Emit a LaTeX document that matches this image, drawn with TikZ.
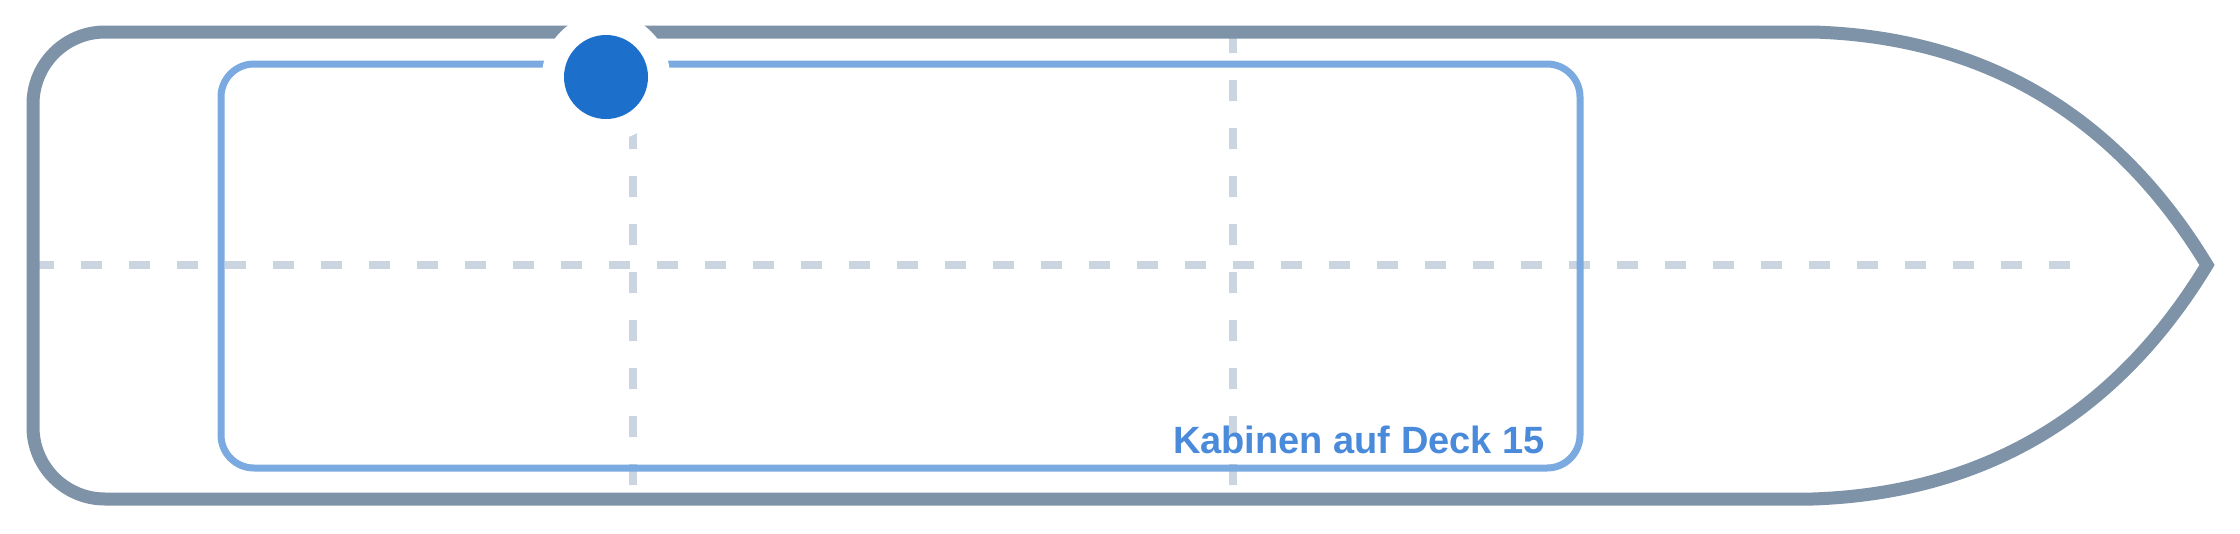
\documentclass[tikz,border=0pt]{standalone}
\usepackage{fontspec}
\setmainfont{Liberation Sans}
\definecolor{hull}{RGB}{127,147,168}
\definecolor{cabin}{RGB}{122,170,224}
\definecolor{grid}{RGB}{203,213,225}
\definecolor{dot}{RGB}{29,111,204}
\definecolor{label}{RGB}{74,138,218}
\begin{document}
\begin{tikzpicture}[x=1pt,y=-1pt,
  hullline/.style={draw=hull,line width=13pt},
  cabinline/.style={draw=cabin,line width=7pt,rounded corners=33pt},
  gridline/.style={draw=grid,line width=8pt,dash pattern=on 21pt off 27pt},
  halo/.style={circle,fill=white,minimum size=128pt,inner sep=0pt},
  marker/.style={circle,fill=dot,minimum size=84pt,inner sep=0pt},
  labeltext/.style={text=label,font=\fontsize{38}{40}\selectfont\bfseries,inner sep=0pt}]
\useasboundingbox (0,0) rectangle (2240,533);
\fill[white] (0,0) rectangle (2240,533);
% grid
\coordinate (hl) at (33,265);
\coordinate (hr) at (2080,265);
\coordinate (v1t) at (633,32);
\coordinate (v1b) at (633,500);
\coordinate (v2t) at (1233,32);
\coordinate (v2b) at (1233,500);
\draw[gridline] (hl) -- (hr);
\draw[gridline] (v1t) -- (v1b);
\draw[gridline] (v2t) -- (v2b);
% hull
\coordinate (tipp) at (2207,265);
\draw[hullline] (1813,32) [rounded corners=72pt] -- (33,32) -- (33,499) [sharp corners] -- (1813,499)
  .. controls (1984,493) and (2116,415) .. (tipp)
  .. controls (2116,115) and (1984,37) .. (1813,32) -- cycle;
% cabin
\draw[cabinline] (221,64) rectangle (1580,468);
% marker
\node[halo] (h) at (606,77) {};
\node[marker] (m) at (606,77) {};
% label
\node[labeltext,anchor=base east] (lab) at (1545,453) {Kabinen auf Deck 15};
\end{tikzpicture}
\end{document}
